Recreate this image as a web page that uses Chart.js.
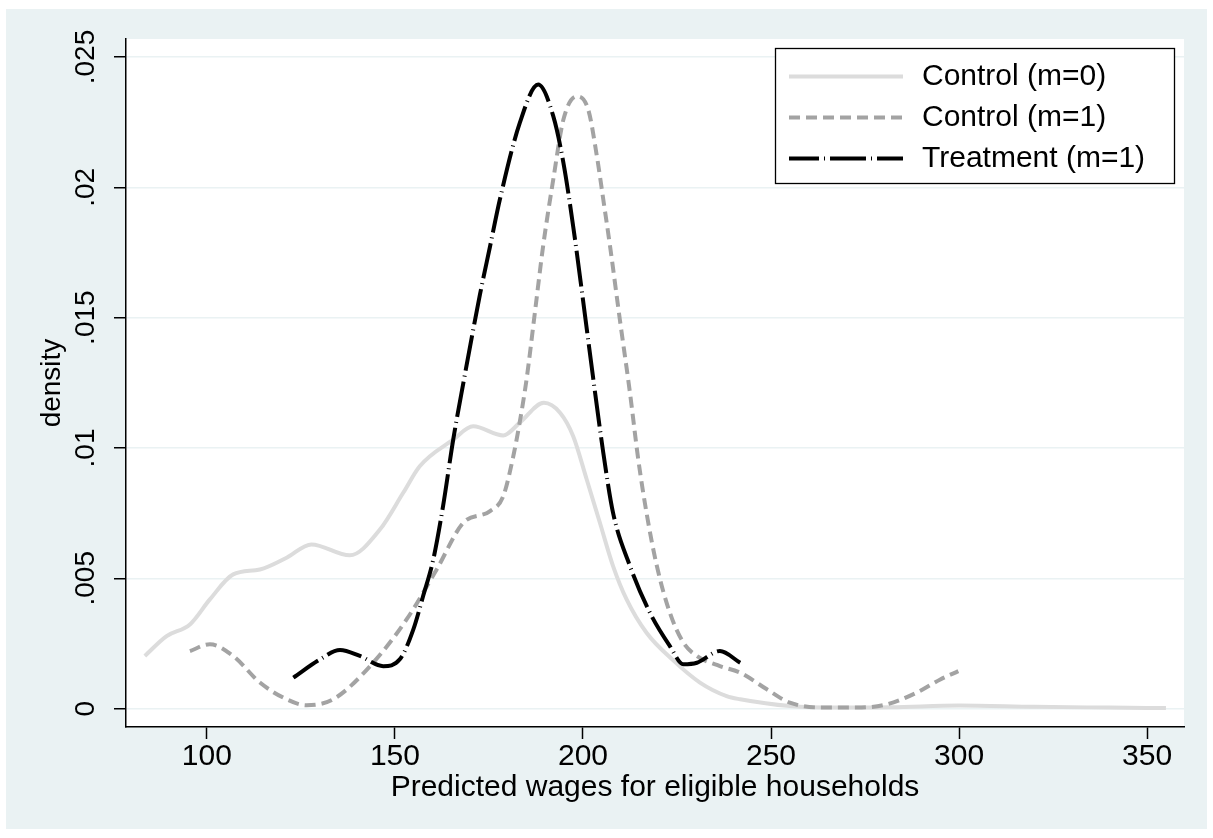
<!DOCTYPE html>
<html><head><meta charset="utf-8">
<script src="https://cdn.jsdelivr.net/npm/chart.js@4.4.1/dist/chart.umd.min.js"></script>
<style>html,body{margin:0;padding:0;background:#fff;}canvas{display:block;}</style>
</head><body>
<canvas id="c" width="1213" height="838"></canvas>
<script>
const xTicks = [100, 150, 200, 250, 300, 350];
const yTicks = [0, 0.005, 0.01, 0.015, 0.02, 0.025];
const yTickLabels = ['0', '.005', '.01', '.015', '.02', '.025'];
const seriesNames = ['Control (m=0)', 'Control (m=1)', 'Treatment (m=1)'];

const ctrl0X = [83.5, 89.3, 95.5, 100.8, 107, 114.1, 121.2, 127.8, 138, 146, 152.2, 156.6, 165.5, 170.8, 178.8, 183.2, 189.6, 193.9, 197.4, 201, 204.5, 208, 211.6, 216.9, 224, 231.1, 238.2, 241.8, 255, 268, 282, 300, 320, 340, 355];
const ctrl0Y = [0.00202, 0.00278, 0.00323, 0.00419, 0.00515, 0.00534, 0.00579, 0.0063, 0.00588, 0.00687, 0.00828, 0.0093, 0.01032, 0.01083, 0.01048, 0.01097, 0.01173, 0.01135, 0.01045, 0.00879, 0.00713, 0.00547, 0.00419, 0.00291, 0.00185, 0.001, 0.00048, 0.00036, 0.0001, 0.00004, 0.00005, 0.00012, 0.00007, 0.00004, 0.00002];

const ctrl1X = [95.5, 100.8, 107, 114.1, 121.2, 126.5, 133.6, 143.4, 153.1, 161.1, 168.2, 175.3, 178.8, 181.5, 183.2, 185, 187.2, 189.4, 192.1, 194.8, 198.3, 201.4, 203.8, 205.4, 207.2, 209.8, 212.5, 214.7, 216.9, 219.6, 223.1, 226.7, 230.3, 236.4, 241.8, 248.9, 255, 263.9, 272.8, 280.7, 288.7, 295, 299.8];
const ctrl1Y = [0.00221, 0.00247, 0.00202, 0.001, 0.00036, 0.00013, 0.00036, 0.00163, 0.00342, 0.00534, 0.00713, 0.00758, 0.00815, 0.0097, 0.011, 0.01263, 0.01518, 0.01774, 0.0203, 0.0226, 0.02349, 0.02298, 0.0211, 0.01953, 0.01774, 0.01493, 0.01211, 0.00956, 0.00751, 0.0055, 0.00368, 0.00253, 0.00202, 0.00163, 0.00138, 0.00074, 0.00023, 0.00004, 0.00004, 0.00016, 0.00061, 0.00112, 0.00144];

const trtX = [123, 130.1, 135.4, 140.7, 146.9, 151.3, 154.9, 157.5, 160.2, 162.8, 165.5, 168.2, 172.6, 175.3, 177.9, 183.2, 188.1, 192.1, 194.8, 197.4, 200, 202.7, 205.4, 208, 212.5, 217.8, 223.1, 226.7, 230.3, 236.4, 241.8];
const trtY = [0.00119, 0.00189, 0.00225, 0.00202, 0.00163, 0.00189, 0.00304, 0.00432, 0.00572, 0.00777, 0.01032, 0.0125, 0.01588, 0.01774, 0.01953, 0.02247, 0.02394, 0.02273, 0.02094, 0.0185, 0.01569, 0.01269, 0.00982, 0.00751, 0.00547, 0.00368, 0.0024, 0.0017, 0.00176, 0.00221, 0.00176];

const FAMILY = "'Liberation Sans', Arial, Helvetica, sans-serif";
const toPts = (xs, ys) => xs.map((x, i) => ({x: x, y: ys[i]}));

const bgPlugin = {
  id: 'bg',
  beforeDraw(chart) {
    const {ctx, chartArea: a} = chart;
    ctx.save();
    ctx.fillStyle = '#ffffff';
    ctx.fillRect(0, 0, chart.width, chart.height);
    ctx.fillStyle = '#eaf2f3';
    ctx.fillRect(6, 9, 1201, 820);
    ctx.fillStyle = '#ffffff';
    ctx.fillRect(a.left, a.top, a.right - a.left, a.bottom - a.top);
    ctx.restore();
  }
};

const legendPlugin = {
  id: 'boxLegend',
  afterDraw(chart) {
    const ctx = chart.ctx;
    const L = 775, T = 48, R = 1174, B = 183;
    const rows = [76.5, 117.5, 158.5];
    ctx.save();
    ctx.fillStyle = '#ffffff';
    ctx.fillRect(L, T, R - L, B - T);
    ctx.strokeStyle = '#000';
    ctx.lineWidth = 1.3;
    ctx.strokeRect(L + 0.5, T + 0.5, R - L, B - T);
    chart.data.datasets.forEach((ds, i) => {
      const y = rows[i];
      ctx.beginPath();
      ctx.strokeStyle = ds.borderColor;
      ctx.lineWidth = ds.borderWidth;
      ctx.lineCap = 'butt';
      ctx.setLineDash(ds.borderDash || []);
      ctx.lineDashOffset = ds.borderDashOffset || 0;
      ctx.moveTo(789, y);
      ctx.lineTo(903, y);
      ctx.stroke();
      ctx.setLineDash([]);
      ctx.fillStyle = '#000';
      ctx.font = '30px ' + FAMILY;
      ctx.textBaseline = 'middle';
      ctx.textAlign = 'left';
      ctx.fillText(ds.label, 922, y);
    });
    ctx.restore();
  }
};

const common = {showLine: true, pointRadius: 0, pointHoverRadius: 0, fill: false,
  cubicInterpolationMode: 'monotone', borderCapStyle: 'butt', borderJoinStyle: 'round'};

new Chart(document.getElementById('c'), {
  type: 'scatter',
  data: {
    datasets: [
      Object.assign({label: seriesNames[0], data: toPts(ctrl0X, ctrl0Y), borderColor: '#dcdcdc', borderWidth: 4, order: 3}, common),
      Object.assign({label: seriesNames[1], data: toPts(ctrl1X, ctrl1Y), borderColor: '#a3a3a3', borderWidth: 4, borderDash: [11, 6], order: 2}, common),
      Object.assign({label: seriesNames[2], data: toPts(trtX, trtY), borderColor: '#000000', borderWidth: 4, borderDash: [36, 5, 1, 5], borderDashOffset: 6, order: 1}, common)
    ]
  },
  options: {
    responsive: false,
    animation: false,
    devicePixelRatio: 1,
    layout: {padding: {left: 0, top: 39, right: 29, bottom: 0}, autoPadding: false},
    plugins: {legend: {display: false}, tooltip: {enabled: false}},
    scales: {
      x: {
        type: 'linear', min: 78.5, max: 359.8,
        afterBuildTicks: s => { s.ticks = xTicks.map(v => ({value: v})); },
        afterFit: s => { s.height = 111; },
        grid: {display: true, drawOnChartArea: false, drawTicks: true, tickLength: 12, tickWidth: 1.5, tickColor: '#000'},
        border: {display: true, color: '#000', width: 1.5},
        ticks: {color: '#000', font: {family: FAMILY, size: 30}, padding: 0, maxRotation: 0, minRotation: 0, autoSkip: false},
        title: {display: true, text: 'Predicted wages for eligible households', color: '#000', font: {family: FAMILY, size: 30}, padding: {top: 0, bottom: 32}}
      },
      y: {
        type: 'linear', min: -0.000705, max: 0.02569,
        afterBuildTicks: s => { s.ticks = yTicks.map(v => ({value: v})); },
        afterFit: s => { s.width = 126; },
        grid: {display: true, color: '#eaf2f3', lineWidth: 1.5, drawTicks: true, tickLength: 12, tickWidth: 1.5, tickColor: '#000'},
        border: {display: true, color: '#000', width: 1.5},
        ticks: {
          color: '#000', font: {family: FAMILY, size: 28}, minRotation: 90, maxRotation: 90, crossAlign: 'center', padding: 0, autoSkip: false,
          callback: v => { const i = yTicks.findIndex(t => Math.abs(t - v) < 1e-9); return i >= 0 ? yTickLabels[i] : ''; }
        },
        title: {display: true, text: 'density', color: '#000', font: {family: FAMILY, size: 28}, padding: {top: 35, bottom: 0}}
      }
    }
  },
  plugins: [bgPlugin, legendPlugin]
});
</script>
</body></html>
